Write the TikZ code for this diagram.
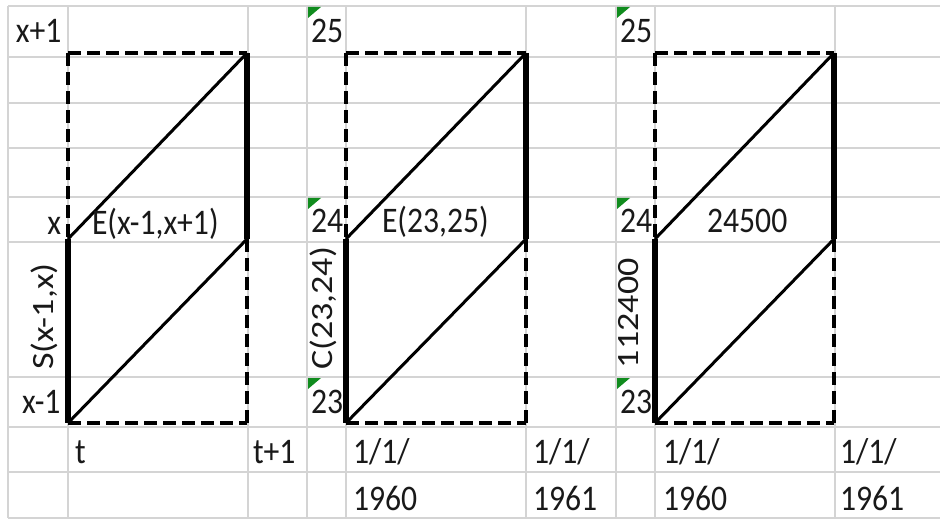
\documentclass[tikz,border=0pt]{standalone}
\usepackage{fontspec}
\setmainfont{Carlito}[FakeStretch=0.88]
\newfontfamily\vfont{Carlito}
\definecolor{gridgray}{RGB}{212,212,212}
\definecolor{xlgreen}{RGB}{16,140,30}
\definecolor{txt}{RGB}{25,25,25}
\begin{document}
\begin{tikzpicture}[x=1pt,y=-1pt,
  grid/.style={draw=gridgray, line width=1.4pt},
  dashedge/.style={line width=4pt, dash pattern=on 13pt off 6pt},
  thickedge/.style={line width=5.5pt},
  diag/.style={line width=3pt},
  lbl/.style={inner sep=0pt, outer sep=0pt, anchor=base west, text=txt,
    font=\fontsize{36}{40}\selectfont},
  vlbl/.style={inner sep=0pt, outer sep=0pt, anchor=base west, rotate=90, text=txt,
    font=\vfont\fontsize{36}{40}\selectfont},
  marker/.style={fill=xlgreen}
]
\useasboundingbox (0,0) rectangle (940,521);
\fill[white] (0,0) rectangle (940,521);
% spreadsheet grid
\foreach \y in {6,57,103,148,197,242,377,427,472,518}
  \draw[grid] (8,\y) -- (940,\y);
\foreach \x in {8,68,248,307,346,526,616,655,835}
  \draw[grid] (\x,6) -- (\x,518);
% green cell markers
\foreach \x in {308,617}
  \foreach \y in {7,198,378}
    \fill[marker] (\x,\y) -- ++(13,0) -- ++(-13,11) -- cycle;
% Lexis boxes
\foreach \L/\R/\n in {68/247/a,346/526/b,655/834/c} {
  \coordinate (TL\n) at (\L,53);
  \coordinate (TR\n) at (\R,53);
  \coordinate (ML\n) at (\L,239);
  \coordinate (MR\n) at (\R,239);
  \coordinate (BL\n) at (\L,423);
  \coordinate (BR\n) at (\R,423);
  \draw[dashedge] (TL\n) -- (TR\n);
  \draw[dashedge] (BL\n) -- (BR\n);
  \draw[dashedge] (TL\n) -- (ML\n);
  \draw[dashedge] (MR\n) -- (BR\n);
  \draw[thickedge] (ML\n) -- (BL\n);
  \draw[thickedge] (TR\n) -- (MR\n);
  \draw[diag] (BL\n) -- (MR\n);
  \draw[diag] (ML\n) -- (TR\n);
}
% panel 1 labels
\node[lbl] (xp1) at (16,43) {x+1};
\node[lbl, anchor=base east] (x0) at (61,235) {x};
\node[lbl] (e1) at (92,235) {E(x-1,x+1)};
\node[vlbl] (s1) at (53,370) {\scalebox{1}[0.86]{S(x-1,x)}};
\node[lbl] (xm1) at (22,413) {x-1};
\node[lbl] (t0) at (75,463) {t};
\node[lbl] (t1) at (253,463) {t+1};
% panel 2 labels
\node[lbl] (b25) at (311,43) {25};
\node[lbl] (b24) at (311,233) {24};
\node[lbl] (b23) at (311,413) {23};
\node[lbl] (e2) at (382,233) {E(23,25)};
\node[vlbl] (c2) at (332,370) {\scalebox{1}[0.86]{C(23,24)}};
\node[lbl] (bd1) at (353,463) {1/1/};
\node[lbl] (by1) at (353,510) {1960};
\node[lbl] (bd2) at (533,463) {1/1/};
\node[lbl] (by2) at (533,510) {1961};
% panel 3 labels
\node[lbl] (c25) at (620,43) {25};
\node[lbl] (c24) at (620,233) {24};
\node[lbl] (c23) at (620,413) {23};
\node[lbl] (e3) at (707,233) {24500};
\node[vlbl] (p3) at (638,368) {\scalebox{1}[0.86]{112400}};
\node[lbl] (cd1) at (663,463) {1/1/};
\node[lbl] (cy1) at (663,510) {1960};
\node[lbl] (cd2) at (840,463) {1/1/};
\node[lbl] (cy2) at (840,510) {1961};
\end{tikzpicture}
\end{document}
